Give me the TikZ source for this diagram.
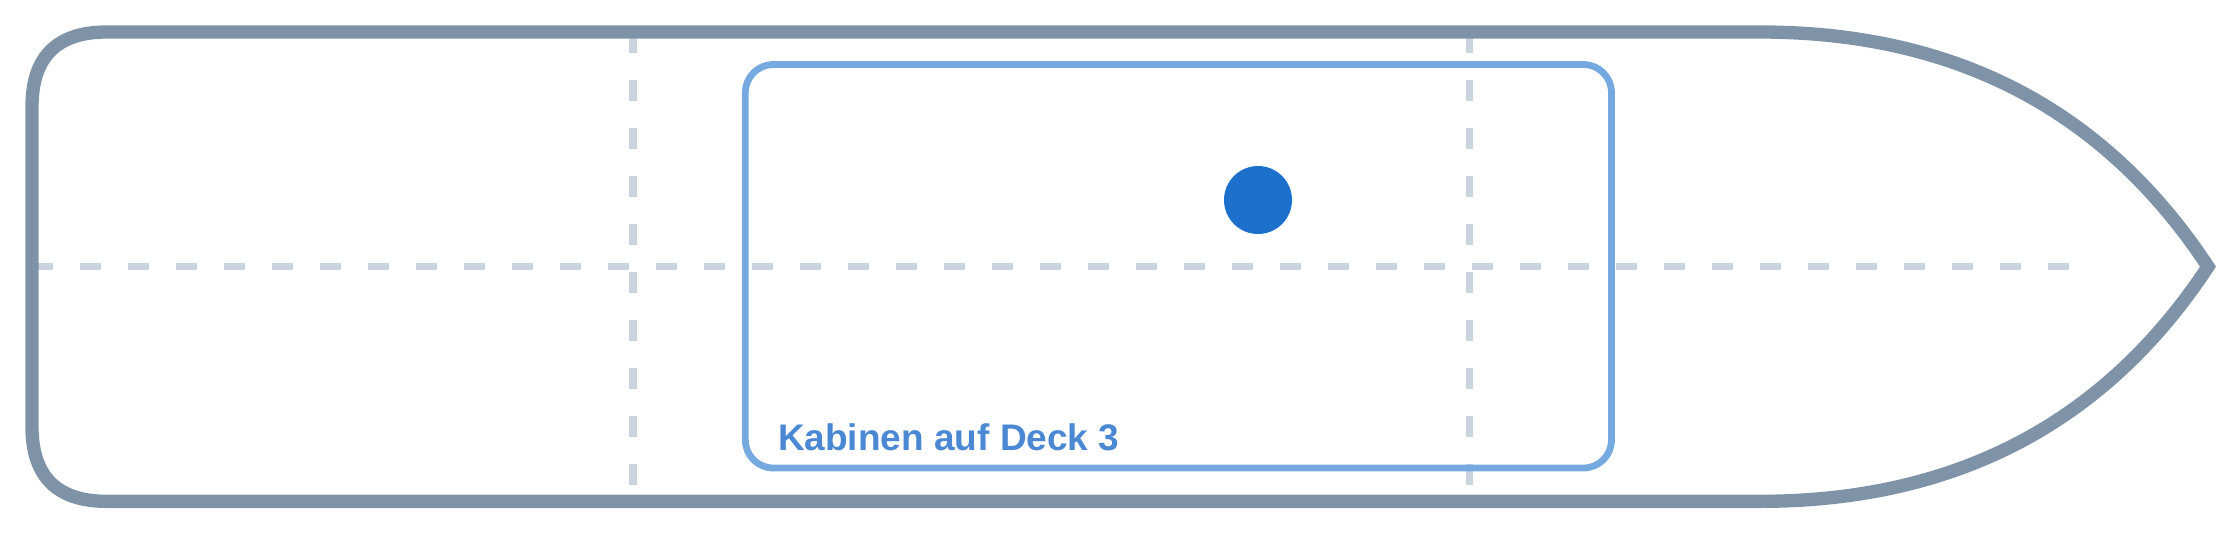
\documentclass[tikz,border=0pt]{standalone}
\usepackage{fontspec}
\setmainfont{Liberation Sans}
\definecolor{hullc}{HTML}{7F93A8}
\definecolor{gridc}{HTML}{C9D4DF}
\definecolor{boxc}{HTML}{76A9E0}
\definecolor{dotc}{HTML}{1C6FCB}
\definecolor{textc}{HTML}{4A88D4}
\begin{document}
\begin{tikzpicture}[x=2.6667pt,y=-2.6667pt,
  hull/.style={draw=hullc,line width=13.33pt,line join=miter},
  grid/.style={draw=gridc,line width=7.5pt,dash pattern=on 21.33pt off 26.67pt},
  cabin/.style={draw=boxc,line width=6.8pt,rounded corners=28pt},
  lbl/.style={text=textc,font=\bfseries\fontsize{37}{40}\selectfont,anchor=base west,inner sep=0pt}]
\useasboundingbox (0,0) rectangle (840,200);
% guide lines
\coordinate (hl0) at (12,100);
\coordinate (hl1) at (780,100);
\coordinate (v1a) at (237.4,12);
\coordinate (v1b) at (237.4,188);
\coordinate (v2a) at (551,12);
\coordinate (v2b) at (551,188);
\draw[grid] (hl0) -- (hl1);
\draw[grid] (v1a) -- (v1b);
\draw[grid] (v2a) -- (v2b);
% hull
\draw[hull] (40,12) -- (660,12)
  .. controls (733.33,12) and (789.33,41.33) .. (828,100)
  .. controls (789.33,158.67) and (733.33,188) .. (660,188)
  -- (40,188)
  .. controls (21.33,188) and (12,178.67) .. (12,160)
  -- (12,40)
  .. controls (12,21.33) and (21.33,12) .. (40,12) -- cycle;
% cabin area
\draw[cabin] (279.5,24.2) rectangle (604.3,175.5);
\node[lbl] (t) at (291.7,169) {Kabinen auf Deck 3};
\fill[dotc] (471.75,75) circle (12.75);
\end{tikzpicture}
\end{document}
